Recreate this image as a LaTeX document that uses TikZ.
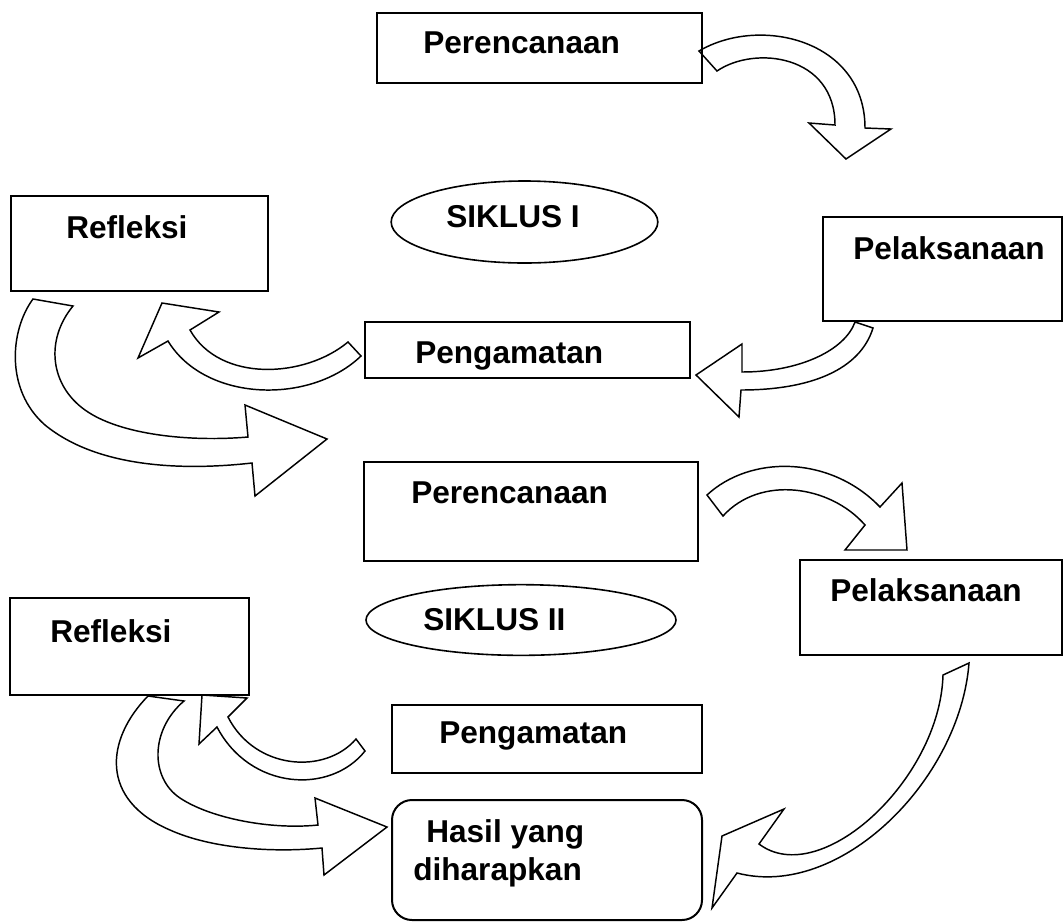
\documentclass[tikz,border=0pt]{standalone}
\usepackage{fontspec}
\setmainfont{Liberation Sans}
\usetikzlibrary{fit,shapes.geometric}
\tikzset{
  box/.style={draw,line width=1.5pt,inner sep=0pt},
  roundbox/.style={box,rounded corners=15pt},
  siklus/.style={draw,ellipse,line width=1.2pt,inner sep=0pt},
  lbl/.style={anchor=base west,inner sep=0pt,font=\fontsize{23.7}{28}\selectfont\bfseries},
  blockarrow/.style={draw,fill=white,line width=1.1pt,line join=miter},
}

\begin{document}
\begin{tikzpicture}[x=0.75pt,y=-0.75pt]
      \useasboundingbox (0,0) rectangle (1063,922);
      \begin{scope}
        % siklus I
        \node[box,fit={(377,13) (702,83)}] (plan1) {};
        \node[box,fit={(11,196) (268,291)}] (refl1) {};
        \node[box,fit={(823,217) (1062,321)}] (act1) {};
        \node[box,fit={(365,322) (690,378)}] (obs1) {};
        \node[siklus,minimum width=200pt,minimum height=61.5pt] (cyc1) at (524.5,222) {};
        % siklus II
        \node[box,fit={(364,462) (698,561)}] (plan2) {};
        \node[box,fit={(10,598) (249,695)}] (refl2) {};
        \node[box,fit={(800,560) (1062,655)}] (act2) {};
        \node[box,fit={(392,705) (702,773)}] (obs2) {};
        \node[siklus,minimum width=232.5pt,minimum height=53pt] (cyc2) at (521,620) {};
        \node[roundbox,fit={(392,800) (702,920)}] (hasil) {};
      \end{scope}
      \begin{scope}
        \node[lbl] (plan1txt) at (423,53) {Perencanaan};
        \node[lbl] (refl1txt) at (66,238) {Refleksi};
        \node[lbl] (cyc1txt) at (446,227) {SIKLUS I};
        \node[lbl] (act1txt) at (853,259) {Pelaksanaan};
        \node[lbl] (obs1txt) at (415,363) {Pengamatan};
        \node[lbl] (plan2txt) at (411,503) {Perencanaan};
        \node[lbl] (act2txt) at (830,601) {Pelaksanaan};
        \node[lbl] (refl2txt) at (50,642) {Refleksi};
        \node[lbl] (cyc2txt) at (423,630) {SIKLUS II};
        \node[lbl] (obs2txt) at (439,743) {Pengamatan};
        \node[lbl] (hasiltxt1) at (426,842) {Hasil yang};
        \node[lbl] (hasiltxt2) at (413,880) {diharapkan};
      \end{scope}
      \begin{scope}[blockarrow]
        \draw (717,71) -- (699,51) .. controls (760,15) and (865,40) .. (865,128) -- (891,129) -- (846,159)
          -- (809,123) -- (835,125) .. controls (835,55) and (755,45) .. (717,71) -- cycle; % plan1 -> act1
        \draw (855,322) -- (873,328) .. controls (860,370) and (810,390) .. (741,390) -- (739,417) -- (696,375)
          -- (742,344) -- (742,372) .. controls (800,372) and (845,350) .. (855,322) -- cycle; % act1 -> obs1
        \draw (348,342) -- (361,356) .. controls (310,405) and (205,402) .. (168,341) -- (138,358) -- (162,303)
          -- (219,312) -- (190,330) .. controls (220,383) and (305,378) .. (348,342) -- cycle; % obs1 -> refl1
        \draw (73,306) -- (33,299) .. controls (10,330) and (5,390) .. (45,425) .. controls (100,470) and (190,470) .. (252,463)
          -- (255,496) -- (327,439) -- (245,405) -- (248,437) .. controls (190,442) and (120,435) .. (85,410)
          .. controls (50,385) and (45,340) .. (73,306) -- cycle; % refl1 -> plan2
      \end{scope}
      \begin{scope}[blockarrow]
        \draw (723,516) -- (707,495) .. controls (750,455) and (830,455) .. (880,507) -- (902,483) -- (907,550)
          -- (845,550) -- (865,525) .. controls (830,485) and (760,475) .. (723,516) -- cycle; % plan2 -> act2
        \draw (943,675) -- (969,663) .. controls (960,780) and (840,900) .. (737,873) -- (712,908) -- (722,836)
          -- (784,809) -- (759,844) .. controls (820,890) and (940,780) .. (943,675) -- cycle; % act2 -> hasil
        \draw (356,739) -- (365,751) .. controls (330,795) and (250,790) .. (217,727) -- (199,744) -- (202,695)
          -- (247,698) -- (228,717) .. controls (255,770) and (325,775) .. (356,739) -- cycle; % obs2 -> refl2
        \draw (184,701) -- (148,696) .. controls (105,740) and (100,800) .. (170,830) .. controls (210,848) and (270,853) .. (322,848)
          -- (324,875) -- (387,827) -- (315,798) -- (318,825) .. controls (270,830) and (210,818) .. (180,798)
          .. controls (150,778) and (150,730) .. (184,701) -- cycle; % refl2 -> hasil
      \end{scope}
    \end{tikzpicture}
\end{document}
